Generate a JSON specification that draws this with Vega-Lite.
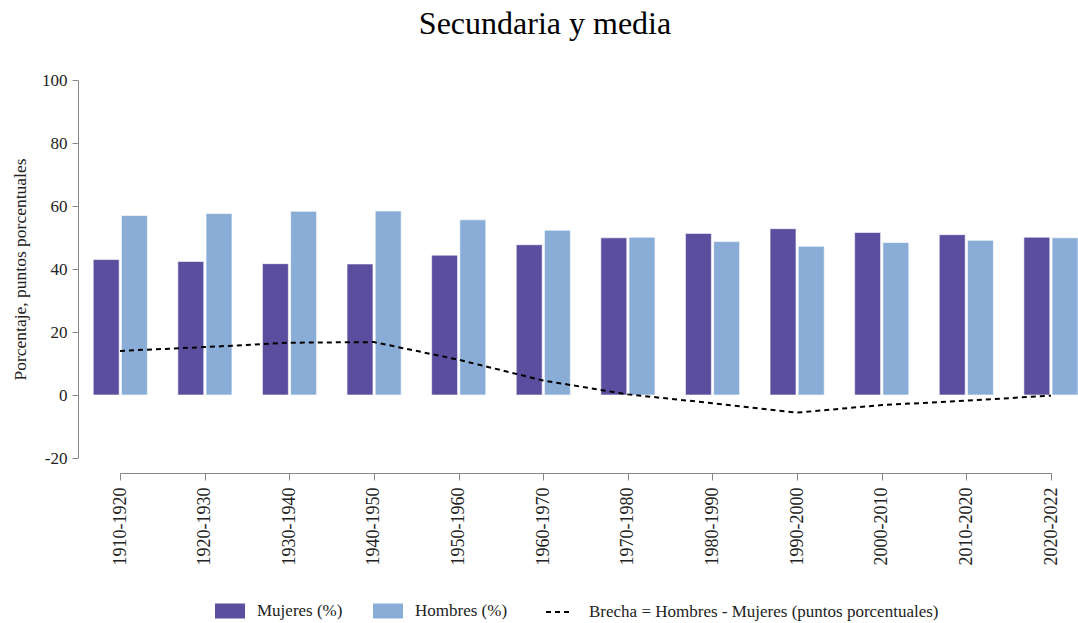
{
  "$schema": "https://vega.github.io/schema/vega-lite/v6.json",
  "autosize": {"type": "none"},
  "padding": {"left": 78, "top": 80, "right": 0, "bottom": 165},
  "width": 1000,
  "height": 378,
  "title": {
    "text": "Secundaria y media",
    "font": "Liberation Serif",
    "fontSize": 32,
    "fontWeight": "normal",
    "color": "#000000",
    "anchor": "middle",
    "dx": -33,
    "offset": 30
  },
  "config": {
    "view": {"stroke": null},
    "axis": {"grid": false}
  },
  "datasets": {
    "barras": [
      {"periodo": "1910-1920", "sexo": "Mujeres (%)", "valor": 43.0},
      {"periodo": "1910-1920", "sexo": "Hombres (%)", "valor": 57.0},
      {"periodo": "1920-1930", "sexo": "Mujeres (%)", "valor": 42.4},
      {"periodo": "1920-1930", "sexo": "Hombres (%)", "valor": 57.6},
      {"periodo": "1930-1940", "sexo": "Mujeres (%)", "valor": 41.7},
      {"periodo": "1930-1940", "sexo": "Hombres (%)", "valor": 58.3},
      {"periodo": "1940-1950", "sexo": "Mujeres (%)", "valor": 41.6},
      {"periodo": "1940-1950", "sexo": "Hombres (%)", "valor": 58.4},
      {"periodo": "1950-1960", "sexo": "Mujeres (%)", "valor": 44.4},
      {"periodo": "1950-1960", "sexo": "Hombres (%)", "valor": 55.6},
      {"periodo": "1960-1970", "sexo": "Mujeres (%)", "valor": 47.7},
      {"periodo": "1960-1970", "sexo": "Hombres (%)", "valor": 52.3},
      {"periodo": "1970-1980", "sexo": "Mujeres (%)", "valor": 49.9},
      {"periodo": "1970-1980", "sexo": "Hombres (%)", "valor": 50.1},
      {"periodo": "1980-1990", "sexo": "Mujeres (%)", "valor": 51.3},
      {"periodo": "1980-1990", "sexo": "Hombres (%)", "valor": 48.7},
      {"periodo": "1990-2000", "sexo": "Mujeres (%)", "valor": 52.8},
      {"periodo": "1990-2000", "sexo": "Hombres (%)", "valor": 47.2},
      {"periodo": "2000-2010", "sexo": "Mujeres (%)", "valor": 51.6},
      {"periodo": "2000-2010", "sexo": "Hombres (%)", "valor": 48.4},
      {"periodo": "2010-2020", "sexo": "Mujeres (%)", "valor": 50.9},
      {"periodo": "2010-2020", "sexo": "Hombres (%)", "valor": 49.1},
      {"periodo": "2020-2022", "sexo": "Mujeres (%)", "valor": 50.1},
      {"periodo": "2020-2022", "sexo": "Hombres (%)", "valor": 49.9}
    ],
    "brecha": [
      {"periodo": "1910-1920", "brecha": 14.0},
      {"periodo": "1920-1930", "brecha": 15.2},
      {"periodo": "1930-1940", "brecha": 16.6},
      {"periodo": "1940-1950", "brecha": 16.8},
      {"periodo": "1950-1960", "brecha": 11.2},
      {"periodo": "1960-1970", "brecha": 4.6},
      {"periodo": "1970-1980", "brecha": 0.2},
      {"periodo": "1980-1990", "brecha": -2.6},
      {"periodo": "1990-2000", "brecha": -5.6},
      {"periodo": "2000-2010", "brecha": -3.2},
      {"periodo": "2010-2020", "brecha": -1.8},
      {"periodo": "2020-2022", "brecha": -0.2}
    ]
  },
  "layer": [
    {
      "data": {"name": "barras"},
      "mark": {"type": "bar", "stroke": "#ffffff", "strokeWidth": 1, "strokeOpacity": 0.6},
      "encoding": {
        "x": {
          "field": "periodo",
          "type": "nominal",
          "sort": null,
          "scale": {"paddingInner": 0.36, "paddingOuter": 0.09, "align": 1},
          "axis": null
        },
        "xOffset": {
          "field": "sexo",
          "type": "nominal",
          "sort": ["Mujeres (%)", "Hombres (%)"],
          "scale": {"paddingInner": 0.08}
        },
        "y": {
          "field": "valor",
          "type": "quantitative",
          "scale": {"domain": [-20, 100], "nice": false, "zero": false},
          "axis": {
            "title": "Porcentaje, puntos porcentuales",
            "titleFont": "Liberation Serif",
            "titleFontSize": 17.5,
            "titleFontWeight": "normal",
            "titleColor": "#222222",
            "titlePadding": 12,
            "labelFont": "Liberation Serif",
            "labelFontSize": 17,
            "labelColor": "#222222",
            "labelPadding": 5,
            "labelExpr": "'' + datum.value",
            "values": [-20, 0, 20, 40, 60, 80, 100],
            "tickSize": 6,
            "tickColor": "#888888",
            "domainColor": "#888888",
            "grid": false
          }
        },
        "color": {
          "field": "sexo",
          "type": "nominal",
          "scale": {
            "domain": ["Mujeres (%)", "Hombres (%)"],
            "range": ["#5B4E9F", "#89ADD6"]
          },
          "legend": {
            "title": null,
            "orient": "none",
            "direction": "horizontal",
            "legendX": 137,
            "legendY": 516,
            "labelFont": "Liberation Serif",
            "labelFontSize": 17,
            "labelColor": "#222222",
            "labelLimit": 600,
            "labelOffset": 12,
            "columnPadding": 30,
            "symbolSize": 900,
            "symbolType": "M-1,-0.5H1V0.5H-1Z",
            "symbolStrokeWidth": 0,
            "symbolOpacity": 1
          }
        }
      }
    },
    {
      "data": {"name": "brecha"},
      "mark": {"type": "line", "color": "#000000", "strokeWidth": 2},
      "encoding": {
        "x": {
          "field": "periodo",
          "type": "nominal",
          "sort": null,
          "scale": {"type": "point", "range": [42, 973], "padding": 0},
          "axis": {
            "title": null,
            "offset": 15,
            "labelAngle": -90,
            "labelFont": "Liberation Serif",
            "labelFontSize": 18,
            "labelColor": "#222222",
            "labelPadding": 7,
            "tickSize": 7,
            "tickColor": "#888888",
            "domainColor": "#888888"
          }
        },
        "y": {"field": "brecha", "type": "quantitative"},
        "strokeDash": {
          "datum": "Brecha = Hombres - Mujeres (puntos porcentuales)",
          "type": "nominal",
          "scale": {"range": [[5, 4]]},
          "legend": {
            "title": null,
            "orient": "none",
            "direction": "horizontal",
            "legendX": 467,
            "legendY": 518,
            "labelFont": "Liberation Serif",
            "labelFontSize": 17,
            "labelColor": "#222222",
            "labelLimit": 600,
            "labelOffset": 16,
            "symbolType": "stroke",
            "symbolSize": 676,
            "symbolStrokeColor": "#000000",
            "symbolStrokeWidth": 2,
            "symbolDash": [5, 4],
            "symbolOpacity": 1
          }
        }
      }
    }
  ],
  "resolve": {"scale": {"x": "independent"}, "axis": {"x": "independent"}}
}
